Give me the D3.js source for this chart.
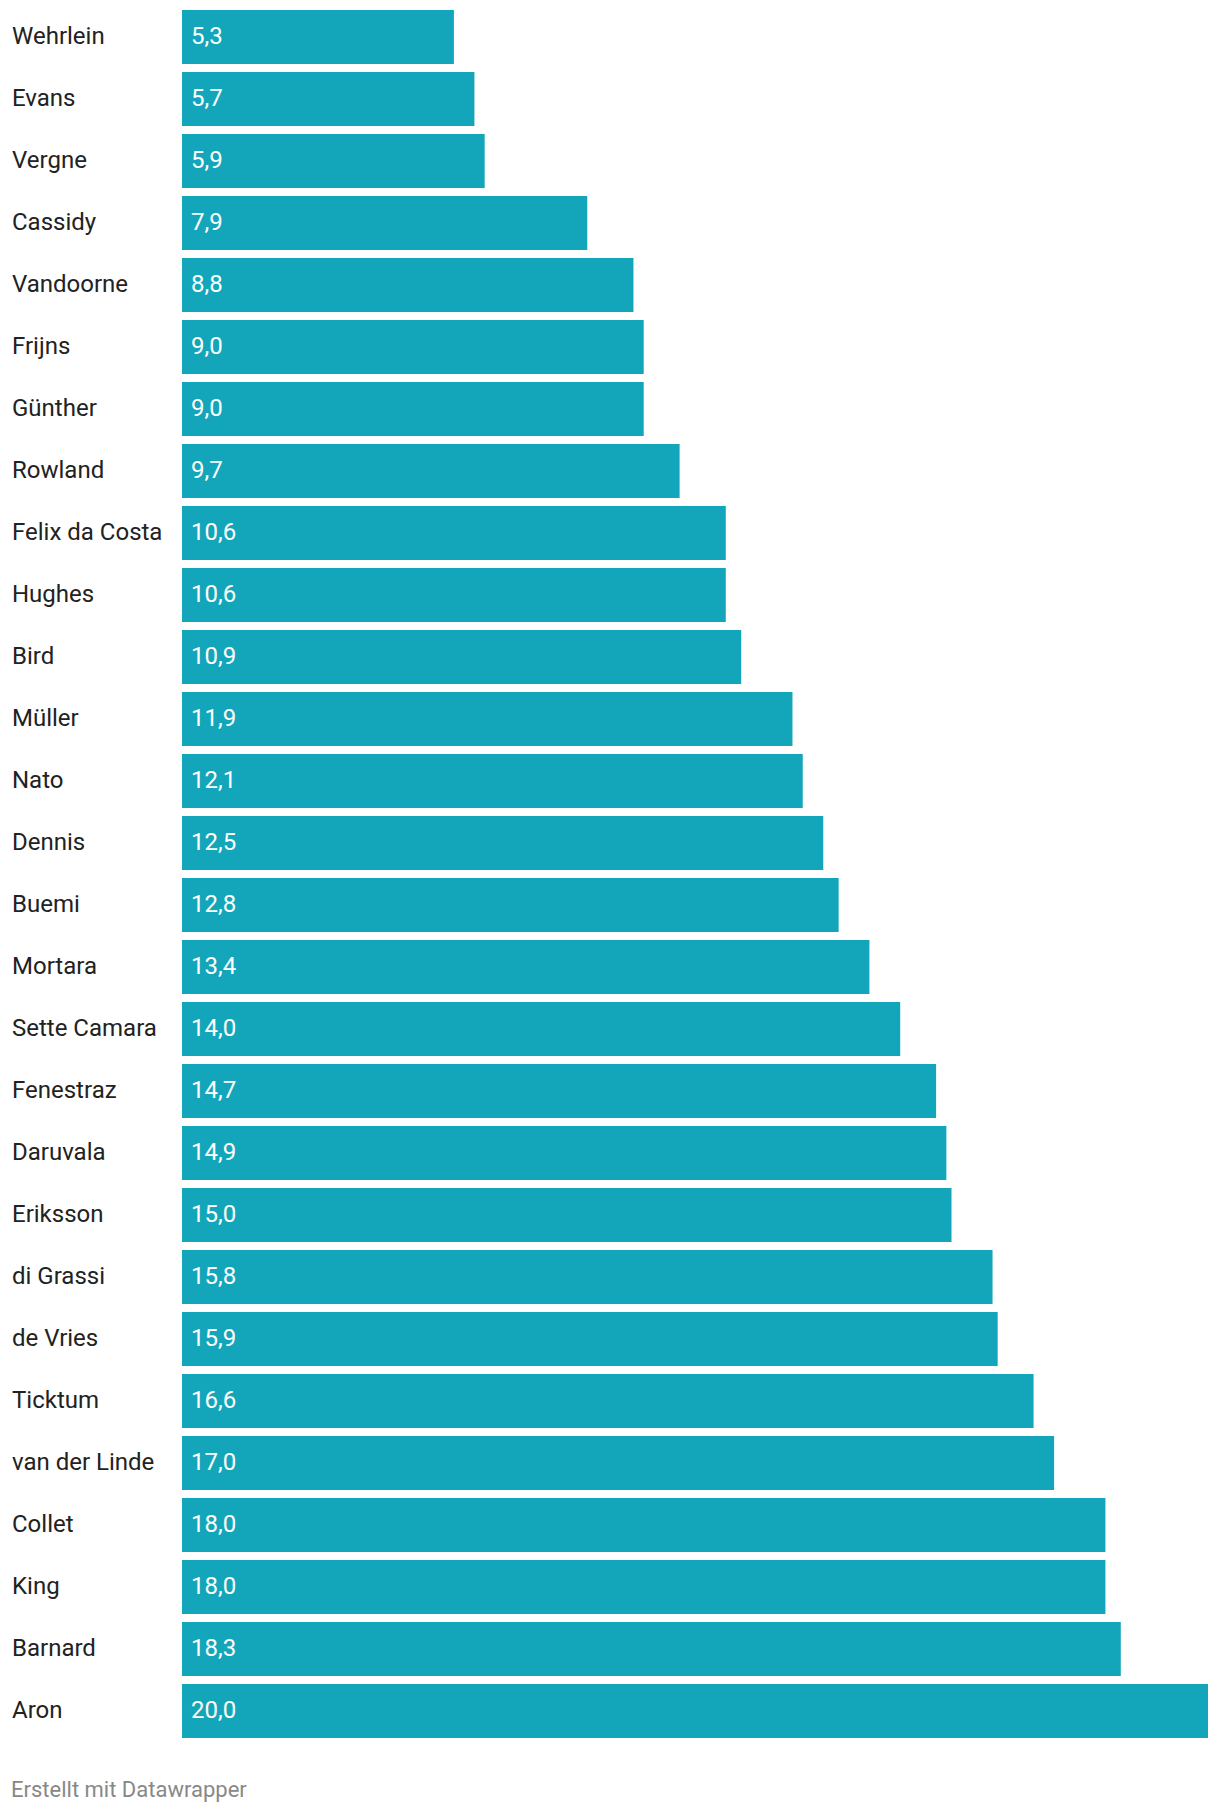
<!DOCTYPE html>
<html>
<head>
<meta charset="utf-8">
<script src="https://cdn.jsdelivr.net/npm/d3@7"></script>
<style>
html,body{margin:0;padding:0;background:#fff;}
svg{display:block;}
text{font-family:Roboto,"Noto Sans",sans-serif;font-weight:400;}
</style>
</head>
<body>
<svg id="chart" width="1220" height="1814"></svg>
<script>
const drivers = ["Wehrlein","Evans","Vergne","Cassidy","Vandoorne","Frijns","Günther","Rowland","Felix da Costa","Hughes","Bird","Müller","Nato","Dennis","Buemi","Mortara","Sette Camara","Fenestraz","Daruvala","Eriksson","di Grassi","de Vries","Ticktum","van der Linde","Collet","King","Barnard","Aron"];
const values = [5.3,5.7,5.9,7.9,8.8,9.0,9.0,9.7,10.6,10.6,10.9,11.9,12.1,12.5,12.8,13.4,14.0,14.7,14.9,15.0,15.8,15.9,16.6,17.0,18.0,18.0,18.3,20.0];
const footerText = "Erstellt mit Datawrapper";

const data = drivers.map((d,i)=>({name:d, value:values[i]}));
const svg = d3.select("#chart");

const x = d3.scaleLinear().domain([0, 20]).range([182, 1208]);
const y = d3.scaleBand().domain(drivers).range([10, 1738]).paddingInner(8/62).paddingOuter(0);

const fmt = v => d3.format(".1f")(v).replace(".", ",");

const rows = svg.append("g").selectAll("g").data(data).join("g");

rows.append("rect")
  .attr("x", x(0))
  .attr("y", d => y(d.name))
  .attr("width", d => x(d.value) - x(0))
  .attr("height", y.bandwidth())
  .attr("fill", "#13a6ba");

rows.append("text")
  .attr("x", 12)
  .attr("y", d => y(d.name) + y.bandwidth()/2 + 7)
  .attr("font-size", 24)
  .attr("fill", "#222")
  .text(d => d.name);

rows.append("text")
  .attr("x", x(0) + 9)
  .attr("y", d => y(d.name) + y.bandwidth()/2 + 7)
  .attr("font-size", 24)
  .attr("fill", "#fff")
  .text(d => fmt(d.value));

svg.append("text")
  .attr("x", 11)
  .attr("y", 1797)
  .attr("font-size", 22)
  .attr("fill", "#888")
  .text(footerText);
</script>
</body>
</html>
